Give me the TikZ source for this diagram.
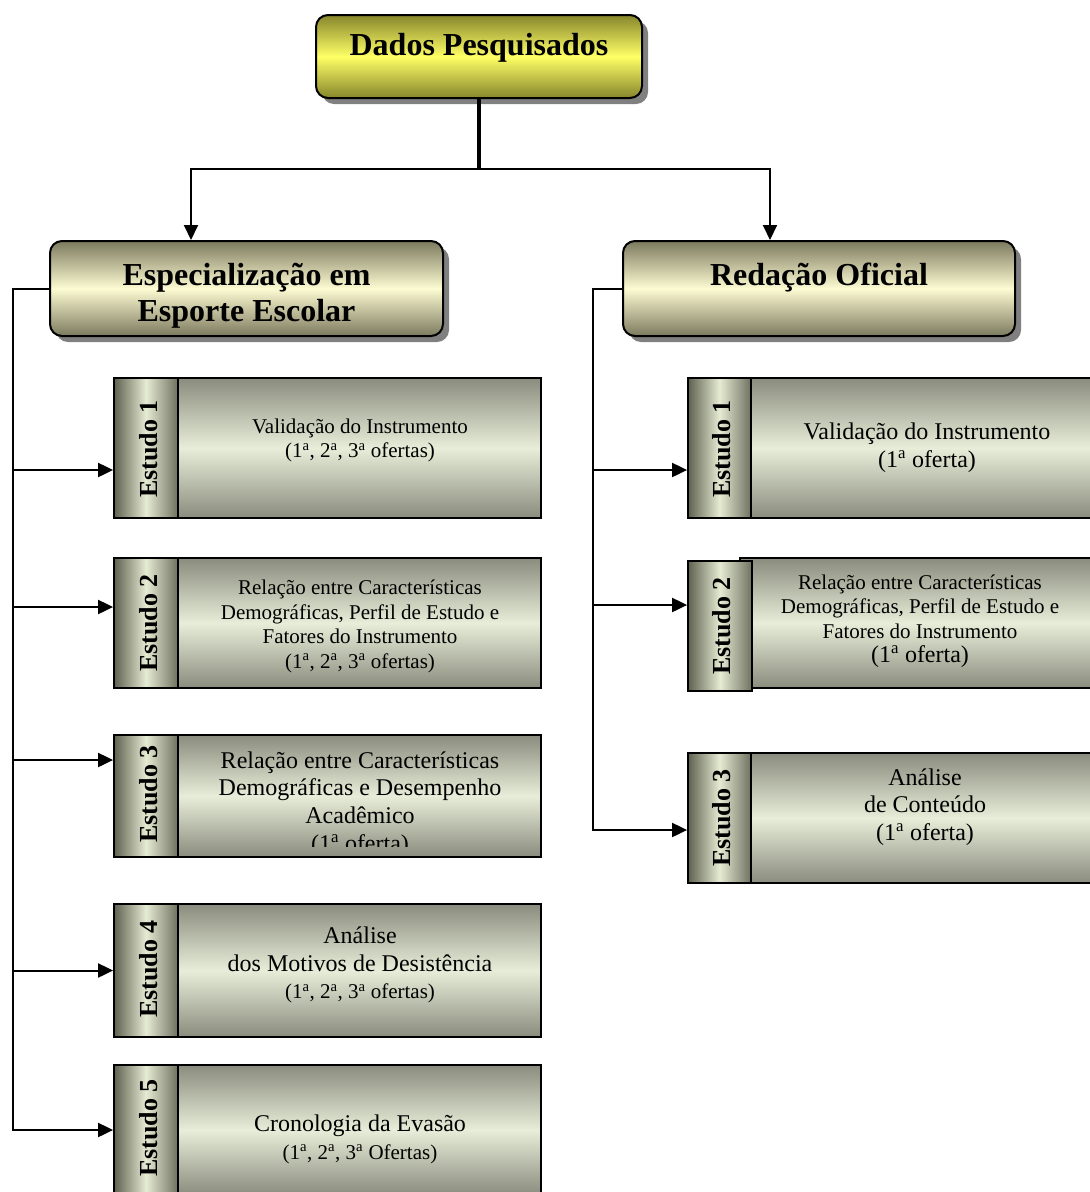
\documentclass[tikz,border=0pt]{standalone}
\usepackage{fontspec}
\setmainfont{Liberation Serif}
\usetikzlibrary{arrows.meta,shadows}

\definecolor{yEdge}{HTML}{86862C}
\definecolor{yMid}{HTML}{FFFF66}
\definecolor{cEdge}{HTML}{7C7A5E}
\definecolor{cMid}{HTML}{FDFBD2}
\definecolor{tagL}{HTML}{5E614F}
\definecolor{tagM}{HTML}{E6EBD3}
\definecolor{tagR}{HTML}{6F7160}
\definecolor{mEdge}{HTML}{8A8C7D}
\definecolor{mMid}{HTML}{E8EDD9}
\definecolor{shadowgray}{HTML}{808080}

\newcommand\ordA{\textsuperscript{a}}

\tikzset{
  conn/.style={draw=black, line width=2pt},
  arr/.style={conn, -{Triangle[length=15pt,width=14pt]}},
  boxshadow/.style={drop shadow={shadow xshift=6pt, shadow yshift=-6pt, fill=shadowgray, opacity=1}},
  topbox/.style={draw=black, line width=2pt, rounded corners=12pt, inner sep=0pt,
    top color=yEdge, bottom color=yEdge, middle color=yMid, boxshadow},
  catbox/.style={draw=black, line width=2pt, rounded corners=12pt, inner sep=0pt,
    top color=cEdge, bottom color=cEdge, middle color=cMid, boxshadow},
  tagbox/.style={draw=black, line width=1.8pt, inner sep=0pt, minimum width=64pt,
    left color=tagL, right color=tagR, middle color=tagM},
  mainbox/.style={draw=black, line width=1.8pt, inner sep=0pt,
    top color=mEdge, bottom color=mEdge, middle color=mMid},
  headtext/.style={font=\fontsize{32}{36}\selectfont\bfseries, align=center, inner sep=0pt},
  tagtext/.style={rotate=90, font=\fontsize{26}{30}\selectfont\bfseries, inner sep=0pt},
  smalltext/.style={align=center, inner sep=0pt, font=\fontsize{21}{24.5}\selectfont},
  largetext/.style={align=center, inner sep=0pt, font=\fontsize{24}{27.8}\selectfont},
}

\begin{document}
\begin{tikzpicture}[x=1pt, y=-1pt]
\clip (0,0) rectangle (1090,1192);
\fill[white] (0,0) rectangle (1090,1192);

% ---------- heading boxes ----------
\node[topbox, minimum width=326pt, minimum height=83pt] (top) at (479,56.5) {};
\node[headtext] (topT) at (479,48) {Dados Pesquisados};

\node[catbox, minimum width=393pt, minimum height=95pt] (esp) at (246.5,288.5) {};
\node[headtext] (espT) at (246.5,296) {Especialização em\\Esporte Escolar};

\node[catbox, minimum width=392pt, minimum height=95pt] (red) at (819,288.5) {};
\node[headtext] (redT) at (819,278) {Redação Oficial};

% ---------- studies of the specialisation course ----------
\node[mainbox, minimum width=363pt, minimum height=140pt] (e1box) at (359.5,448) {};
\node[tagbox, minimum height=140pt] (e1tag) at (146,448) {};
\node[tagtext] (e1tagT) at (149,449) {Estudo 1};
\node[smalltext] (e1T) at (360,440.5) {Validação do Instrumento\\(1\ordA, 2\ordA, 3\ordA{} ofertas)};

\node[mainbox, minimum width=363pt, minimum height=130pt] (e2box) at (359.5,623) {};
\node[tagbox, minimum height=130pt] (e2tag) at (146,623) {};
\node[tagtext] (e2tagT) at (149,623) {Estudo 2};
\node[smalltext] (e2T) at (360,626.5) {Relação entre Características\\Demográficas, Perfil de Estudo e\\Fatores do Instrumento\\(1\ordA, 2\ordA, 3\ordA{} ofertas)};

\node[mainbox, minimum width=363pt, minimum height=122pt] (e3box) at (359.5,796) {};
\node[tagbox, minimum height=122pt] (e3tag) at (146,796) {};
\node[tagtext] (e3tagT) at (149,794) {Estudo 3};
\begin{scope}
  % the text frame ends a little above the lower edge of the box
  \clip (e3box.north west) rectangle ([yshift=11pt]e3box.south east);
  \node[largetext] (e3T) at (360,804) {Relação entre Características\\Demográficas e Desempenho\\Acadêmico\\(1\ordA{} oferta)};
\end{scope}

\node[mainbox, minimum width=363pt, minimum height=133pt] (e4box) at (359.5,970.5) {};
\node[tagbox, minimum height=133pt] (e4tag) at (146,970.5) {};
\node[tagtext] (e4tagT) at (149,969) {Estudo 4};
\node[largetext] (e4T) at (360,965) {Análise\\dos Motivos de Desistência\\{\fontsize{21}{24.5}\selectfont (1\ordA, 2\ordA, 3\ordA{} ofertas)}};

\node[mainbox, minimum width=363pt, minimum height=130pt] (e5box) at (359.5,1130) {};
\node[tagbox, minimum height=130pt] (e5tag) at (146,1130) {};
\node[tagtext] (e5tagT) at (149,1128) {Estudo 5};
\node[largetext] (e5T) at (360,1139.5) {Cronologia da Evasão\\{\fontsize{21}{24.5}\selectfont (1\ordA, 2\ordA, 3\ordA{} Ofertas)}};

% ---------- studies of the official writing course ----------
\node[mainbox, minimum width=350pt, minimum height=140pt] (r1box) at (926,448) {};
\node[tagbox, minimum width=63pt, minimum height=140pt] (r1tag) at (719.5,448) {};
\node[tagtext] (r1tagT) at (722,449) {Estudo 1};
\node[largetext] (r1T) at (927,447.5) {Validação do Instrumento\\(1\ordA{} oferta)};

\node[mainbox, minimum width=360pt, minimum height=130pt] (r2box) at (920,623) {};
\node[tagbox, minimum width=64pt, minimum height=130pt] (r2tag) at (720,626) {};
\node[tagtext] (r2tagT) at (722,626) {Estudo 2};
\node[smalltext] (r2T) at (920,621) {Relação entre Características\\Demográficas, Perfil de Estudo e\\Fatores do Instrumento\\{\fontsize{24}{27.8}\selectfont (1\ordA{} oferta)}};

\node[mainbox, minimum width=350pt, minimum height=130pt] (r3box) at (926,818) {};
\node[tagbox, minimum width=63pt, minimum height=130pt] (r3tag) at (719.5,818) {};
\node[tagtext] (r3tagT) at (722,818) {Estudo 3};
\node[largetext] (r3T) at (925,807) {Análise\\de Conteúdo\\(1\ordA{} oferta)};

% ---------- connectors ----------
\coordinate (fork) at (479,169);
\draw[conn, line width=4pt] (top.south) -- (fork);
\draw[arr] (fork) -| ([xshift=-55.5pt]esp.north);
\draw[arr] (fork) -| ([xshift=-49pt]red.north);

\coordinate (busL) at (13,288.5);
\coordinate (l1) at (13,470);
\coordinate (l2) at (13,607);
\coordinate (l3) at (13,760);
\coordinate (l4) at (13,970.5);
\draw[arr] (esp.west) -- (busL) |- (e5tag.west);
\draw[arr] (l1) -- (l1 -| e1tag.west);
\draw[arr] (l2) -- (l2 -| e2tag.west);
\draw[arr] (l3) -- (l3 -| e3tag.west);
\draw[arr] (l4) -- (e4tag.west);

\coordinate (busR) at (593,288.5);
\coordinate (q1) at (593,470);
\coordinate (q2) at (593,605);
\coordinate (q3) at (593,830);
\draw[arr] (red.west) -- (busR) -- (q3) -- (q3 -| r3tag.west);
\draw[arr] (q1) -- (q1 -| r1tag.west);
\draw[arr] (q2) -- (q2 -| r2tag.west);
\end{tikzpicture}
\end{document}
